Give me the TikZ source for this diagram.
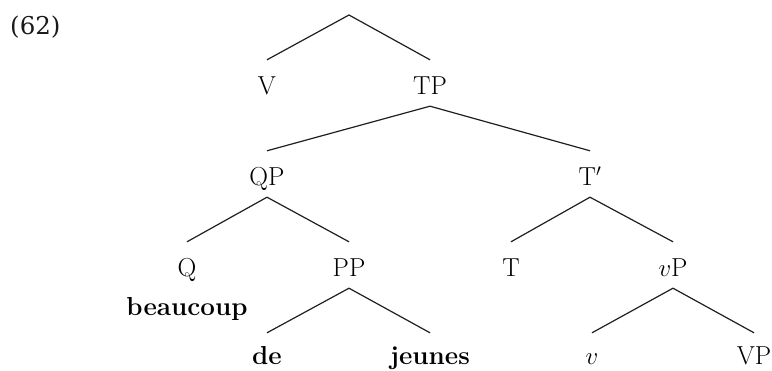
\documentclass[tikz,border=0pt]{standalone}
\usepackage{fontspec}
\newfontfamily\exfont{DejaVu Serif}
\begin{document}
\begin{tikzpicture}[x=1pt,y=-1pt,
  tn/.style={anchor=base,inner sep=0pt,text height=35pt,text depth=11pt,
    font=\fontsize{26}{31}\selectfont},
  leaf/.style={tn,text depth=0pt},
  low/.style={leaf,text height=32pt},
  br/.style={line width=1.2pt,draw=black!88}]
\useasboundingbox (0,0) rectangle (772,371);
\node[anchor=base west,inner sep=0pt,font=\exfont\fontsize{24.5}{30}\selectfont,text=black!90] (ex) at (10,35) {(62)};
\coordinate (root) at (349,15);
\node[leaf] (V) at (267,95) {V};
\node[tn] (TP) at (430,95) {TP};
\node[tn] (QP) at (267,186) {QP};
\node[tn] (Tbar) at (590,186) {T$'$};
\node[leaf] (Q) at (187,277) {Q};
\node[anchor=base,inner sep=0pt,font=\fontsize{26}{31}\selectfont] (beau) at (187,316) {\textbf{beaucoup}};
\node[tn] (PP) at (349,277) {PP};
\node[leaf] (T) at (511,277) {T};
\node[tn] (vP) at (673,277) {$v$P};
\node[low] (de) at (267,365) {\textbf{de}};
\node[low] (jeunes) at (430,365) {\textbf{jeunes}};
\node[low] (v) at (592,365) {$v$};
\node[low] (VP) at (754,365) {VP};
\draw[br] (V.north) -- (root) -- (TP.north);
\draw[br] (QP.north) -- (TP.south) -- (Tbar.north);
\draw[br] (Q.north) -- (QP.south) -- (PP.north);
\draw[br] (T.north) -- (Tbar.south) -- (vP.north);
\draw[br] (de.north) -- (PP.south) -- (jeunes.north);
\draw[br] (v.north) -- (vP.south) -- (VP.north);
\end{tikzpicture}
\end{document}
